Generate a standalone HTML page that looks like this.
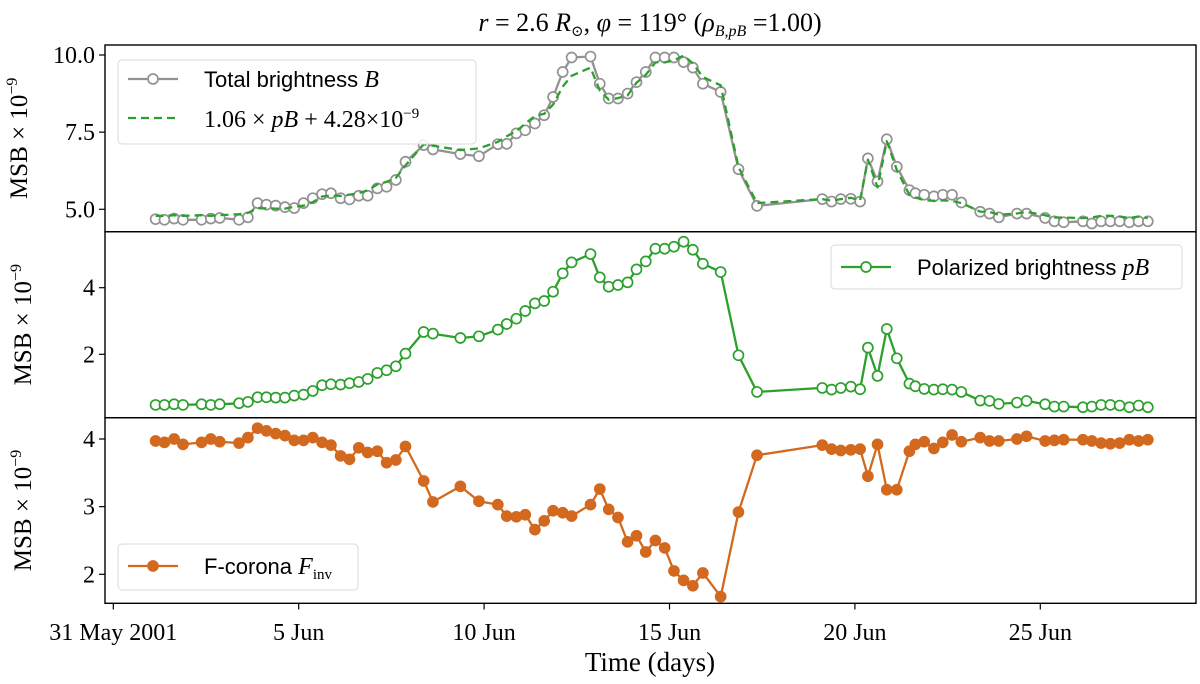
<!DOCTYPE html>
<html><head><meta charset="utf-8"><style>
html,body{margin:0;padding:0;background:#fff;}
svg{display:block;}
text{font-family:"Liberation Serif","DejaVu Serif",serif;fill:#000;}
.sans{font-family:"Liberation Sans","DejaVu Sans",sans-serif;}
</style></head><body>
<svg id="chart" width="1200" height="684" viewBox="0 0 1200 684" xmlns="http://www.w3.org/2000/svg">
<text x="650" y="31" font-size="26" text-anchor="middle"><tspan font-style="italic">r</tspan> = 2.6 <tspan font-style="italic">R</tspan><tspan font-size="15" dy="5">⊙</tspan><tspan dy="-5">,  </tspan><tspan font-style="italic">φ</tspan> = 119° (<tspan font-style="italic">ρ</tspan><tspan font-size="16" dy="5" font-style="italic">B,pB</tspan><tspan dy="-5"> =1.00)</tspan></text>
<g id="panels"></g>
<text x="650" y="671" font-size="27" text-anchor="middle">Time (days)</text>
</svg>
<script>
const days=[1.14,1.38,1.64,1.88,2.38,2.63,2.87,3.39,3.63,3.89,4.13,4.38,4.63,4.88,5.13,5.38,5.63,5.87,6.13,6.37,6.62,6.86,7.12,7.37,7.62,7.88,8.37,8.62,9.36,9.86,10.37,10.61,10.87,11.11,11.37,11.62,11.86,12.12,12.36,12.87,13.12,13.36,13.61,13.87,14.11,14.36,14.62,14.87,15.12,15.38,15.63,15.90,16.38,16.86,17.36,19.12,19.37,19.62,19.89,20.14,20.35,20.61,20.86,21.13,21.47,21.63,21.87,22.13,22.37,22.62,22.87,23.38,23.63,23.88,24.37,24.63,25.13,25.38,25.63,26.15,26.39,26.64,26.89,27.14,27.40,27.65,27.90];
const totalB=[4.68,4.66,4.70,4.66,4.66,4.70,4.72,4.66,4.74,5.20,5.15,5.12,5.07,5.04,5.20,5.36,5.49,5.52,5.36,5.32,5.44,5.44,5.68,5.73,5.95,6.54,7.08,6.94,6.79,6.72,7.11,7.12,7.46,7.56,7.78,8.05,8.64,9.45,9.92,9.95,9.07,8.59,8.59,8.75,9.12,9.45,9.92,9.92,9.92,9.77,9.59,9.07,8.80,6.30,5.11,5.33,5.25,5.33,5.34,5.25,6.65,5.90,7.27,6.38,5.62,5.52,5.47,5.42,5.47,5.47,5.22,4.92,4.86,4.74,4.86,4.86,4.72,4.61,4.58,4.61,4.54,4.61,4.61,4.61,4.58,4.61,4.61];
const polB=[0.48,0.48,0.5,0.48,0.5,0.48,0.5,0.53,0.57,0.71,0.71,0.70,0.70,0.76,0.79,0.9,1.07,1.1,1.09,1.13,1.17,1.26,1.44,1.52,1.64,2.02,2.67,2.62,2.49,2.54,2.74,2.91,3.07,3.3,3.53,3.6,3.88,4.43,4.76,5.01,4.31,4.03,4.08,4.16,4.55,4.79,5.17,5.17,5.23,5.38,5.14,4.72,4.47,1.97,0.87,0.99,0.94,0.99,1.03,0.95,2.2,1.35,2.76,1.88,1.12,1.04,0.96,0.94,0.95,0.94,0.87,0.61,0.6,0.51,0.55,0.6,0.5,0.43,0.43,0.41,0.43,0.48,0.48,0.46,0.41,0.46,0.41];
const fCorona=[3.97,3.95,4.0,3.92,3.95,4.0,3.96,3.94,4.02,4.16,4.12,4.08,4.05,3.98,3.98,4.02,3.95,3.91,3.75,3.70,3.87,3.80,3.82,3.65,3.69,3.89,3.38,3.07,3.30,3.08,3.03,2.86,2.85,2.88,2.66,2.79,2.94,2.91,2.86,3.03,3.26,2.96,2.84,2.48,2.57,2.33,2.50,2.39,2.05,1.91,1.83,2.02,1.67,2.92,3.76,3.91,3.85,3.83,3.84,3.85,3.45,3.92,3.25,3.25,3.82,3.92,3.96,3.86,3.95,4.06,3.96,4.02,3.97,3.97,4.0,4.04,3.97,3.98,3.99,3.99,3.97,3.94,3.93,3.94,3.99,3.97,3.99];
const fitScale=1.06, fitOffset=4.28;
const xTickDays=[0,5,10,15,20,25];
const xTickLabels=["31 May 2001","5 Jun","10 Jun","15 Jun","20 Jun","25 Jun"];
const topTicks=[5.0,7.5,10.0], topTickLabels=["5.0","7.5","10.0"];
const midTicks=[2,4], midTickLabels=["2","4"];
const botTicks=[2,3,4], botTickLabels=["2","3","4"];

const NS="http://www.w3.org/2000/svg";
const root=document.getElementById('panels');
const L=105,R=1196;
const xScale=d=>113.3+d*37.08;
function mk(tag,attrs,parent){const e=document.createElementNS(NS,tag);for(const k in attrs)e.setAttribute(k,attrs[k]);(parent||root).appendChild(e);return e;}
function lin(v0,p0,v1,p1){return v=>p0+(v-v0)*(p1-p0)/(v1-v0);}
const yTop=lin(5,209.3,10,55);
const yMid=lin(2,354.3,4,287.7);
const yBot=lin(2,574.3,4,439);

function panel(name,top,bottom,ys,ticks,labels){
  const g=mk('g',{});
  
  
  ticks.forEach((t,i)=>{
    const y=ys(t);
    mk('line',{x1:L-6,x2:L,y1:y,y2:y,stroke:'#000','stroke-width':1.2},g);
    const tx=mk('text',{x:L-10,y:y+8,'font-size':24,'text-anchor':'end'},g);
    tx.textContent=labels[i];
    
    
  });
  const cy=(top+bottom)/2;
  const yl=mk('text',{x:0,y:0,'font-size':25,'text-anchor':'middle',transform:`translate(${name==='top'?27:31},${cy}) rotate(-90)`},g);
  yl.innerHTML='MSB × 10<tspan font-size="16" dy="-10">−9</tspan>';
  
  
  return g;
}
function series(g,name,vals,ys,color,filled,dash){
  const pts=days.map((d,i)=>xScale(d).toFixed(1)+','+ys(vals[i]).toFixed(1)).join(' ');
  const pl=mk('polyline',{points:pts,fill:'none',stroke:color,'stroke-width':2.3,'stroke-linejoin':'round'},g);
  if(dash)pl.setAttribute('stroke-dasharray','8,5');
  
  
  if(filled===null)return;
  days.forEach((d,i)=>{
    const c=mk('circle',{cx:xScale(d),cy:ys(vals[i]),r:5,fill:filled?color:'#fff',stroke:color,'stroke-width':1.7},g);
    
    
  });
}
const gT=panel('top',45,231.7,yTop,topTicks,topTickLabels);
series(gT,'total-brightness',totalB,yTop,'#929292',false,false);
const fitVals=polB.map(v=>fitScale*v+fitOffset);
series(gT,'fit',fitVals,yTop,'#2ca02c',null,true);
const gM=panel('mid',231.7,417.7,yMid,midTicks,midTickLabels);
series(gM,'polarized-brightness',polB,yMid,'#2ca02c',false,false);
const gB=panel('bottom',417.7,603.3,yBot,botTicks,botTickLabels);
series(gB,'f-corona',fCorona,yBot,'#d2691e',true,false);
xTickDays.forEach((d,i)=>{
  const x=xScale(d);
  mk('line',{x1:x,x2:x,y1:603.3,y2:609.5,stroke:'#000','stroke-width':1.2});
  const t=mk('text',{x:x,y:640,'font-size':24,'text-anchor':'middle'});
  t.textContent=xTickLabels[i];
  
  
});
[[45,231.7],[231.7,417.7],[417.7,603.3]].forEach(([a,b])=>{
  const r=mk('rect',{x:L,y:a,width:R-L,height:b-a,fill:'none',stroke:'#000','stroke-width':1.4});
  
  
});
function legendBox(name,x,y,w,h){
  const g=mk('g',{});
  
  
  mk('rect',{x:x,y:y,width:w,height:h,rx:4,fill:'#fff','fill-opacity':0.85,stroke:'#d9d9d9','stroke-width':1},g);
  return g;
}
const lg1=legendBox('top-legend',118,60,358,84);
mk('line',{x1:128,x2:178,y1:79,y2:79,stroke:'#929292','stroke-width':2.2},lg1);
mk('circle',{cx:153,cy:79,r:5,fill:'#fff',stroke:'#929292','stroke-width':1.7},lg1);
let t1=mk('text',{x:204,y:87,'font-size':22,class:'sans'},lg1);
t1.innerHTML='Total brightness <tspan font-family="Liberation Serif" font-style="italic" font-size="24">B</tspan>';


mk('line',{x1:128,x2:178,y1:118,y2:118,stroke:'#2ca02c','stroke-width':2.2,'stroke-dasharray':'8,5'},lg1);
let t2=mk('text',{x:204,y:127,'font-size':24},lg1);
t2.innerHTML='1.06 × <tspan font-style="italic">pB</tspan> + 4.28×10<tspan font-size="15" dy="-9">−9</tspan>';



const lg2=legendBox('middle-legend',831,245,351,44);
mk('line',{x1:841,x2:891,y1:267,y2:267,stroke:'#2ca02c','stroke-width':2.2},lg2);
mk('circle',{cx:866,cy:267,r:5,fill:'#fff',stroke:'#2ca02c','stroke-width':1.7},lg2);
let t3=mk('text',{x:917,y:275,'font-size':22,class:'sans'},lg2);
t3.innerHTML='Polarized brightness <tspan font-family="Liberation Serif" font-style="italic" font-size="24">pB</tspan>';



const lg3=legendBox('bottom-legend',118,544,240,46);
mk('line',{x1:128,x2:178,y1:566,y2:566,stroke:'#d2691e','stroke-width':2.2},lg3);
mk('circle',{cx:153,cy:566,r:5,fill:'#d2691e',stroke:'#d2691e','stroke-width':1.7},lg3);
let t4=mk('text',{x:204,y:574,'font-size':22,class:'sans'},lg3);
t4.innerHTML='F-corona <tspan font-family="Liberation Serif" font-style="italic" font-size="24">F</tspan><tspan font-family="Liberation Serif" font-size="15" dy="5">inv</tspan>';


</script>
</body></html>
